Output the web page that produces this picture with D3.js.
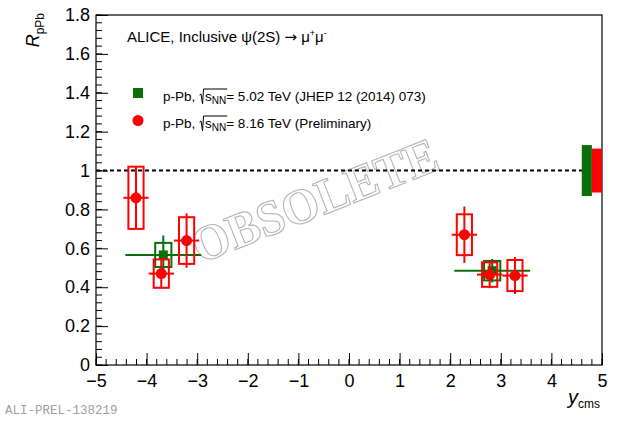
<!DOCTYPE html>
<html>
<head>
<meta charset="utf-8">
<script src="https://cdn.jsdelivr.net/npm/d3@7"></script>
<style>
  body { margin: 0; background: #fff; }
  svg { display: block; font-family: "Liberation Sans", Arial, sans-serif; }
</style>
</head>
<body>
<div id="chart"></div>
<script>
// 8.16 TeV (preliminary)
var rap816 = [-4.21, -3.71, -3.21, 2.28, 2.78, 3.28];
var r816 = [0.86, 0.47, 0.64, 0.67, 0.465, 0.46];
var stat816 = [0.16, 0.075, 0.14, 0.145, 0.07, 0.095];
var syst816 = [0.16, 0.073, 0.12, 0.105, 0.063, 0.08];
var xerr816 = 0.25;

// 5.02 TeV (JHEP 12 (2014) 073)
var rap502 = [-3.67, 2.83];
var r502 = [0.566, 0.485];
var stat502 = [0.10, 0.06];
var syst502 = [0.062, 0.05];
var xerr502 = 0.75;

// global uncertainties around unity
var glob502 = 0.131;
var glob816 = 0.113;

var xTicks = [-5, -4, -3, -2, -1, 0, 1, 2, 3, 4, 5];
var yTicks = [0, 0.2, 0.4, 0.6, 0.8, 1, 1.2, 1.4, 1.6, 1.8];

var W = 623, H = 421;
var padL = 96, padR = 602, padT = 15, padB = 365;
var green = "#0a6e0a", red = "#ff0000";

var svg = d3.select("#chart").append("svg").attr("width", W).attr("height", H);

var x = d3.scaleLinear().domain([-5, 5]).range([padL, padR]);
var y = d3.scaleLinear().domain([0, 1.8]).range([padB, padT]);

// frame
svg.append("rect").attr("x", padL).attr("y", padT)
  .attr("width", padR - padL).attr("height", padB - padT)
  .attr("fill", "none").attr("stroke", "#000").attr("stroke-width", 1.2);

// minor ticks
svg.append("g").selectAll("line").data(d3.range(-5, 5.001, 0.2)).enter().append("line")
  .attr("x1", function(d) { return x(d); }).attr("x2", function(d) { return x(d); })
  .attr("y1", padB).attr("y2", padB - 6).attr("stroke", "#000");
svg.append("g").selectAll("line").data(d3.range(0, 1.8001, 0.04)).enter().append("line")
  .attr("y1", function(d) { return y(d); }).attr("y2", function(d) { return y(d); })
  .attr("x1", padL).attr("x2", padL + 6).attr("stroke", "#000");

// axes with major ticks
var xAxis = d3.axisBottom(x).tickValues(xTicks).tickSizeInner(-12).tickSizeOuter(0).tickPadding(18)
  .tickFormat(function(d) { return d < 0 ? "\u2212" + (-d) : String(d); });
var gx = svg.append("g").attr("transform", "translate(0," + padB + ")").call(xAxis);
var yAxis = d3.axisLeft(y).tickValues(yTicks).tickSizeInner(-12).tickSizeOuter(0).tickPadding(18)
  .tickFormat(function(d) { return String(+d.toFixed(1)); });
var gy = svg.append("g").attr("transform", "translate(" + padL + ",0)").call(yAxis);
[gx, gy].forEach(function(g) {
  g.select(".domain").remove();
  g.selectAll("text").attr("font-size", 18).attr("fill", "#000")
    .attr("font-family", "Liberation Sans, Arial, sans-serif");
  g.selectAll(".tick line").attr("stroke", "#000");
});
gy.selectAll("text").attr("x", -6);
gx.selectAll("text").attr("y", 9);

// axis titles
var yt = svg.append("text").attr("transform", "translate(39,13) rotate(-90)")
  .attr("text-anchor", "end").attr("font-size", 18);
yt.append("tspan").attr("font-style", "italic").text("R");
yt.append("tspan").attr("font-size", 12).attr("dy", 5).text("pPb");

var xt = svg.append("text").attr("x", padR - 2).attr("y", 404)
  .attr("text-anchor", "end").attr("font-size", 20);
xt.append("tspan").attr("font-style", "italic").text("y");
xt.append("tspan").attr("font-size", 12).attr("dy", 4).text("cms");

// watermark
svg.append("text").attr("transform", "translate(321,216) rotate(-21.5)")
  .attr("text-anchor", "middle").attr("font-family", "Liberation Serif, DejaVu Serif, serif")
  .attr("font-weight", "bold").attr("font-size", 50)
  .attr("textLength", 260).attr("lengthAdjust", "spacingAndGlyphs")
  .attr("fill", "#fff").attr("stroke", "#b4b4b4").attr("stroke-width", 1.1)
  .text("OBSOLETE");

// unity line
svg.append("line").attr("x1", x(-5)).attr("x2", x(5)).attr("y1", y(1)).attr("y2", y(1))
  .attr("stroke", "#000").attr("stroke-width", 2).attr("stroke-dasharray", "4,3");

// global boxes
svg.append("rect").attr("x", x(4.6)).attr("width", x(4.8) - x(4.6))
  .attr("y", y(1 + glob502)).attr("height", y(1 - glob502) - y(1 + glob502))
  .attr("fill", green);
svg.append("rect").attr("x", x(4.8)).attr("width", x(5) - x(4.8))
  .attr("y", y(1 + glob816)).attr("height", y(1 - glob816) - y(1 + glob816))
  .attr("fill", red);

function drawSeries(rap, val, stat, syst, xerr, boxHalf, color, marker) {
  var g = svg.append("g");
  var idx = d3.range(rap.length);
  // systematic boxes
  g.selectAll(".sys").data(idx).enter().append("rect")
    .attr("x", function(i) { return x(rap[i] - boxHalf); })
    .attr("width", function(i) { return x(rap[i] + boxHalf) - x(rap[i] - boxHalf); })
    .attr("y", function(i) { return y(val[i] + syst[i]); })
    .attr("height", function(i) { return y(val[i] - syst[i]) - y(val[i] + syst[i]); })
    .attr("fill", "none").attr("stroke", color).attr("stroke-width", 2);
  // horizontal bars
  g.selectAll(".hx").data(idx).enter().append("line")
    .attr("x1", function(i) { return x(rap[i] - xerr); })
    .attr("x2", function(i) { return x(rap[i] + xerr); })
    .attr("y1", function(i) { return y(val[i]); })
    .attr("y2", function(i) { return y(val[i]); })
    .attr("stroke", color).attr("stroke-width", 2);
  // stat bars
  g.selectAll(".st").data(idx).enter().append("line")
    .attr("x1", function(i) { return x(rap[i]); })
    .attr("x2", function(i) { return x(rap[i]); })
    .attr("y1", function(i) { return y(val[i] + stat[i]); })
    .attr("y2", function(i) { return y(val[i] - stat[i]); })
    .attr("stroke", color).attr("stroke-width", 2);
  // markers
  if (marker === "circle") {
    g.selectAll(".m").data(idx).enter().append("circle")
      .attr("cx", function(i) { return x(rap[i]); })
      .attr("cy", function(i) { return y(val[i]); })
      .attr("r", 5.5).attr("fill", color);
  } else {
    g.selectAll(".m").data(idx).enter().append("rect")
      .attr("x", function(i) { return x(rap[i]) - 4.5; })
      .attr("y", function(i) { return y(val[i]) - 4.5; })
      .attr("width", 9).attr("height", 9).attr("fill", color);
  }
}

drawSeries(rap502, r502, stat502, syst502, xerr502, 0.16, green, "square");
drawSeries(rap816, r816, stat816, syst816, xerr816, 0.15, red, "circle");

// title
var tt = svg.append("text").attr("x", 127).attr("y", 42).attr("font-size", 15);
tt.append("tspan").text("ALICE, Inclusive \u03c8(2S) ");
tt.append("tspan").attr("font-family", "DejaVu Sans, sans-serif").text("\u2192");
tt.append("tspan").text(" \u03bc");
tt.append("tspan").attr("font-size", 9).attr("dy", -6).text("+");
tt.append("tspan").attr("font-size", 15).attr("dy", 6).text("\u03bc");
tt.append("tspan").attr("font-size", 9).attr("dy", -6).text("-");

// legend
var legendLabels = ["5.02 TeV (JHEP 12 (2014) 073)", "8.16 TeV (Preliminary)"];
var legendY = [101, 128];
svg.append("rect").attr("x", 133).attr("y", legendY[0] - 13).attr("width", 10).attr("height", 10).attr("fill", green);
svg.append("circle").attr("cx", 138).attr("cy", legendY[1] - 7.5).attr("r", 5.5).attr("fill", red);

legendLabels.forEach(function(lab, k) {
  var t = svg.append("text").attr("x", 163).attr("y", legendY[k]).attr("font-size", 13.5);
  var a = t.append("tspan").text("p-Pb, ");
  var s = t.append("tspan").attr("dx", 6).text("s");
  var nn = t.append("tspan").attr("font-size", 10).attr("dy", 3).text("NN");
  t.append("tspan").attr("font-size", 13.5).attr("dy", -3).text("= " + lab);
  // radical sign drawn by hand
  var x0 = 163 + a.node().getComputedTextLength();
  var x1 = x0 + 6 + s.node().getComputedTextLength() + nn.node().getComputedTextLength();
  var yb = legendY[k] + 3, yt0 = legendY[k] - 12;
  svg.append("path")
    .attr("d", "M" + (x0 + 0.5) + "," + (yb - 9) + " L" + (x0 + 2) + "," + (yb - 10) +
      " L" + (x0 + 3.5) + "," + yb + " L" + (x0 + 4.5) + "," + yt0 + " L" + (x1 + 1) + "," + yt0)
    .attr("fill", "none").attr("stroke", "#000").attr("stroke-width", 1);
});

// footer id
svg.append("text").attr("x", 5).attr("y", 414).attr("font-size", 12.5)
  .attr("font-family", "Liberation Mono, Courier New, monospace").attr("fill", "#a0a0a0")
  .text("ALI-PREL-138219");
</script>
</body>
</html>
